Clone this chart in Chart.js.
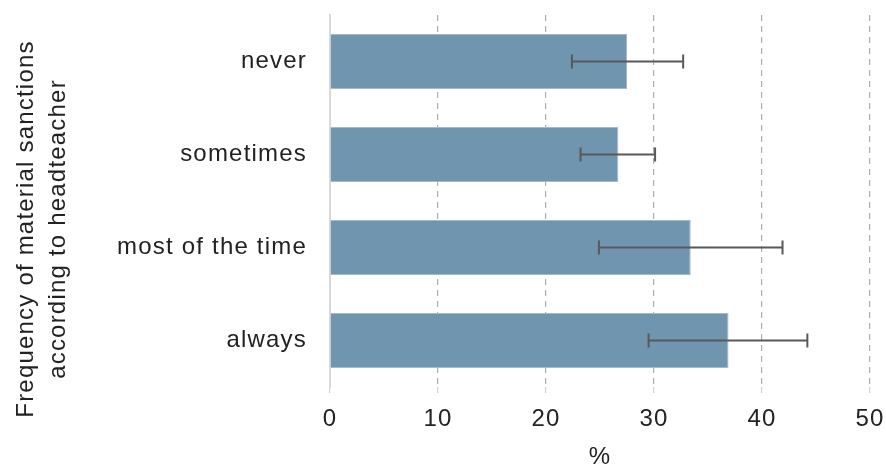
<!DOCTYPE html>
<html>
<head>
<meta charset="utf-8">
<script src="https://cdn.jsdelivr.net/npm/chart.js@4/dist/chart.umd.min.js"></script>
<style>
  html, body { margin: 0; padding: 0; background: #fff; }
  #wrap { width: 886px; height: 466px; }
</style>
</head>
<body>
<div id="wrap"><canvas id="barChart" width="886" height="466"></canvas></div>
<script>
const categories = ['never', 'sometimes', 'most of the time', 'always'];
const values = [27.5, 26.7, 33.4, 36.9];
const errLow = [22.4, 23.2, 24.9, 29.5];
const errHigh = [32.7, 30.1, 41.9, 44.2];
const yTitle = ['Frequency of material sanctions', 'according to headteacher'];
const xTitle = '%';

const FONT = '"Liberation Sans", Arial, sans-serif';
const SPACING = '1.2px';

// the original text is set a little wide
const wideText = {
    id: 'wideText',
    beforeInit(chart) { chart.ctx.letterSpacing = SPACING; },
    beforeUpdate(chart) { chart.ctx.letterSpacing = SPACING; },
    beforeDraw(chart) { chart.ctx.letterSpacing = SPACING; }
};

// error bars drawn on top of the bars
const errorBars = {
    id: 'errorBars',
    afterDatasetsDraw(chart) {
        const ctx = chart.ctx;
        const x = chart.scales.x;
        const y = chart.scales.y;
        ctx.save();
        ctx.strokeStyle = '#595959';
        ctx.lineWidth = 2;
        for (let i = 0; i < categories.length; i++) {
            const yc = y.getPixelForValue(i);
            const x1 = x.getPixelForValue(errLow[i]);
            const x2 = x.getPixelForValue(errHigh[i]);
            ctx.beginPath();
            ctx.moveTo(x1, yc); ctx.lineTo(x2, yc);
            ctx.moveTo(x1, yc - 7); ctx.lineTo(x1, yc + 7);
            ctx.moveTo(x2, yc - 7); ctx.lineTo(x2, yc + 7);
            ctx.stroke();
        }
        ctx.restore();
    }
};

// two-line vertical title on the left
const sideTitle = {
    id: 'sideTitle',
    afterDraw(chart) {
        const ctx = chart.ctx;
        ctx.save();
        ctx.letterSpacing = SPACING;
        ctx.translate(0, 229);
        ctx.rotate(-Math.PI / 2);
        ctx.fillStyle = '#222';
        ctx.font = '24px ' + FONT;
        ctx.textAlign = 'center';
        ctx.textBaseline = 'middle';
        ctx.fillText(yTitle[0], 0, 26);
        ctx.fillText(yTitle[1], 0, 58);
        ctx.restore();
    }
};

const barConfig = {
    type: 'bar',
    data: {
        labels: categories,
        datasets: [{
            data: values,
            backgroundColor: '#7095ae',
            borderColor: '#a3bacb',
            borderWidth: 1,
            barPercentage: 0.59,
            categoryPercentage: 1
        }]
    },
    options: {
        indexAxis: 'y',
        responsive: false,
        animation: false,
        layout: { padding: { top: 15, right: 16, left: 0, bottom: 0 } },
        plugins: {
            legend: { display: false },
            tooltip: { enabled: false }
        },
        scales: {
            x: {
                min: 0,
                max: 50,
                ticks: {
                    stepSize: 10,
                    color: '#222',
                    padding: 12,
                    font: { family: FONT, size: 24 }
                },
                grid: {
                    color: (c) => c.index === 0 ? 'rgba(0,0,0,0)' : '#adadad',
                    tickColor: '#d0d0d0',
                    tickLength: 6,
                    lineWidth: 1.2
                },
                border: { display: false, dash: [6, 5] },
                title: {
                    display: true,
                    text: xTitle,
                    color: '#222',
                    font: { family: FONT, size: 24 },
                    padding: { top: 8, bottom: -6 }
                },
                afterFit(scale) {
                    scale.height = 79;
                    scale.paddingLeft = 0;
                    scale.paddingRight = 0;
                }
            },
            y: {
                ticks: {
                    color: '#222',
                    padding: 23,
                    font: { family: FONT, size: 24 }
                },
                grid: { display: false, drawTicks: false },
                border: { display: true, color: '#d9d9d9', width: 2 },
                afterFit(scale) {
                    scale.width = 330;
                    scale.paddingTop = 0;
                    scale.paddingBottom = 0;
                }
            }
        }
    },
    plugins: [wideText, errorBars, sideTitle]
};

let barChart = new Chart(document.getElementById('barChart'), barConfig);
</script>
</body>
</html>
